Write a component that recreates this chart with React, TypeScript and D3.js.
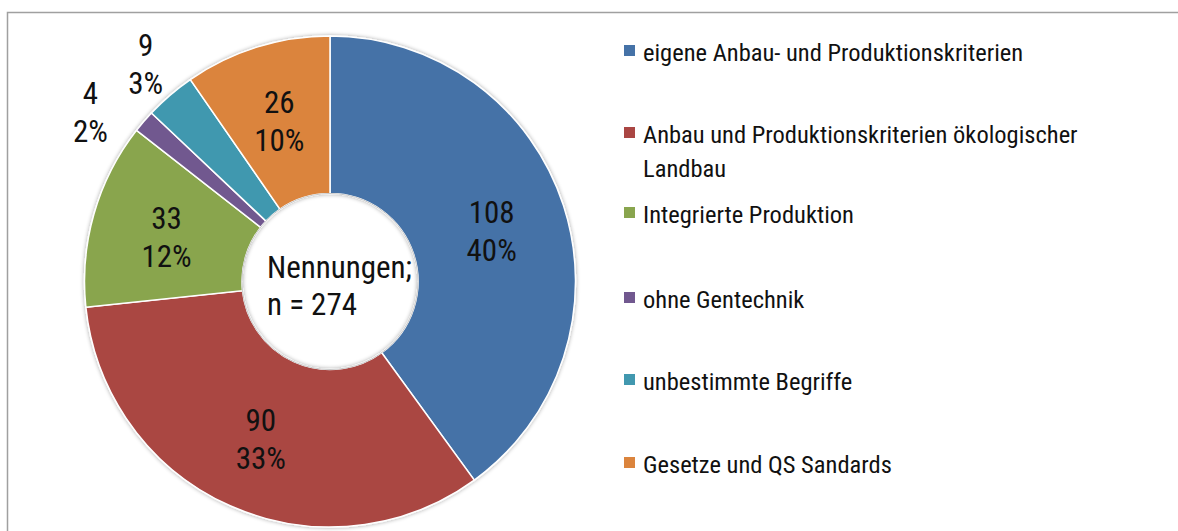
import React from "react";
import * as d3 from "d3";

const categories = [
  "eigene Anbau- und Produktionskriterien",
  "Anbau und Produktionskriterien ökologischer Landbau",
  "Integrierte Produktion",
  "ohne Gentechnik",
  "unbestimmte Begriffe",
  "Gesetze und QS Sandards",
];
const legendLines = [
  ["eigene Anbau- und Produktionskriterien"],
  ["Anbau und Produktionskriterien ökologischer", "Landbau"],
  ["Integrierte Produktion"],
  ["ohne Gentechnik"],
  ["unbestimmte Begriffe"],
  ["Gesetze und QS Sandards"],
];
const values = [108, 90, 33, 4, 9, 26];
const percents = ["40%", "33%", "12%", "2%", "3%", "10%"];
const colors = ["#4572A7", "#AA4643", "#89A54E", "#71588F", "#4198AF", "#DB843D"];
const centerLines = ["Nennungen;", "n = 274"];

const FONT = "'Liberation Sans Narrow', 'Arial Narrow', 'Roboto Condensed', 'Liberation Sans', sans-serif";

export default function App() {
  const W = 1178, H = 531;
  const cx = 330, cy = 281.5;
  const outerR = 245.5, innerR = 88;
  const pie = d3.pie<number>().sort(null).value((d) => d);
  const arcs = pie(values);
  const arc = d3.arc<d3.PieArcDatum<number>>().innerRadius(innerR).outerRadius(outerR);
  const midArc = d3.arc<d3.PieArcDatum<number>>().innerRadius(170).outerRadius(170);
  const legendY = [61, 143, 223, 308, 390, 473];

  // outside label position for small slices (nudged to avoid overlap)
  const outsidePos = (a: d3.PieArcDatum<number>, i: number): [number, number] => {
    const mid = (a.startAngle + a.endAngle) / 2;
    const crowded = i === 3;
    const ang = mid - (crowded ? (5.8 * Math.PI) / 180 : 0);
    const r = crowded ? 292 : 283;
    return [r * Math.sin(ang), -r * Math.cos(ang)];
  };

  return (
    <svg width={W} height={H} style={{ position: "absolute", left: 0, top: 0 }}>
      <defs>
        <filter id="sh" x="-10%" y="-10%" width="120%" height="120%">
          <feGaussianBlur in="SourceAlpha" stdDeviation="2" />
          <feComponentTransfer><feFuncA type="linear" slope="0.35" /></feComponentTransfer>
          <feMerge><feMergeNode /><feMergeNode in="SourceGraphic" /></feMerge>
        </filter>
      </defs>
      <rect x={0} y={0} width={W} height={H} fill="#fff" />
      <rect x={7.5} y={12.5} width={W + 20} height={H + 20} fill="#fff" stroke="#a0a0a0" strokeWidth={1.5} />
      <g transform={`translate(${cx},${cy})`}>
        <g filter="url(#sh)">
          {arcs.map((a, i) => (
            <path key={i} d={arc(a) || ""} fill={colors[i]} stroke="#fff" strokeWidth={1.5} />
          ))}
        </g>
        <circle r={innerR} fill="none" stroke="#c8c8c8" strokeWidth={1} />
        {arcs.map((a, i) => {
          const small = values[i] < 15;
          const [x, y] = small ? outsidePos(a, i) : midArc.centroid(a);
          const y0 = small ? y - 11 : y - 6;
          return (
            <text key={i} textAnchor="middle" fontFamily={FONT} fontSize={31} fill="#111">
              <tspan x={x} y={y0}>{values[i]}</tspan>
              <tspan x={x} y={y0 + 38}>{percents[i]}</tspan>
            </text>
          );
        })}
      </g>
      <text fontFamily={FONT} fontSize={31} fill="#111">
        <tspan x={267} y={278}>{centerLines[0]}</tspan>
        <tspan x={267} y={315}>{centerLines[1]}</tspan>
      </text>
      {categories.map((c, i) => (
        <g key={c}>
          <rect x={624} y={legendY[i] - 16} width={11} height={11} fill={colors[i]} />
          <text fontFamily={FONT} fontSize={24.5} fill="#111">
            {legendLines[i].map((l, j) => (
              <tspan key={j} x={643} y={legendY[i] + j * 34}>{l}</tspan>
            ))}
          </text>
        </g>
      ))}
    </svg>
  );
}
